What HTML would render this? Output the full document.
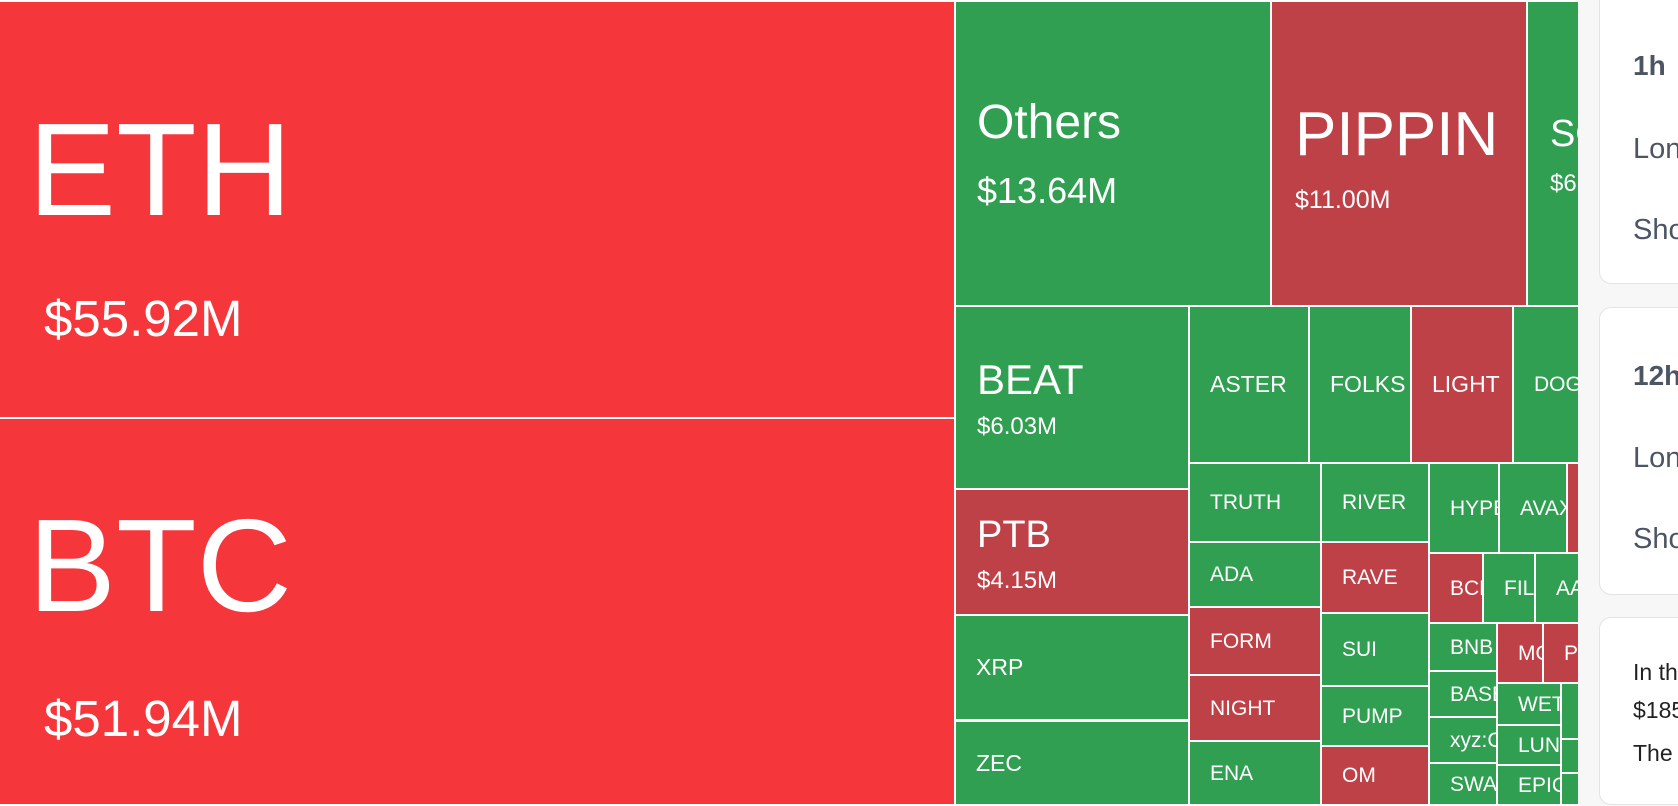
<!DOCTYPE html>
<html><head><meta charset="utf-8"><style>
html,body{margin:0;padding:0;width:1678px;height:806px;overflow:hidden;background:#fff;font-family:"Liberation Sans",sans-serif}
#tm{position:absolute;left:0;top:0;width:1578px;height:806px;background:#fff}
.cell{position:absolute;overflow:hidden}
.lbl{position:absolute;color:#fff;white-space:nowrap;line-height:1}
#side{position:absolute;left:1578px;top:0;width:100px;height:806px;background:#f7f7f8}
.card{position:absolute;left:21px;width:120px;background:#fff;border:1px solid #e4e4e7;border-radius:12px}
.ct{position:absolute;left:33px;white-space:nowrap;color:#4b5563;line-height:1}
</style></head><body>
<div id="tm"></div>
<div id="side">
 <div class="card" style="top:-12px;height:294px">
  <div class="ct" style="top:63px;font-size:28px;font-weight:bold">1h</div>
  <div class="ct" style="top:146px;font-size:29px">Long</div>
  <div class="ct" style="top:227px;font-size:29px">Short</div>
 </div>
 <div class="card" style="top:307px;height:286px">
  <div class="ct" style="top:54px;font-size:28px;font-weight:bold">12h</div>
  <div class="ct" style="top:136px;font-size:29px">Long</div>
  <div class="ct" style="top:217px;font-size:29px">Short</div>
 </div>
 <div class="card" style="top:617px;height:186px">
  <div class="ct" style="top:43px;font-size:23px;color:#222">In the past</div>
  <div class="ct" style="top:81px;font-size:23px;color:#222">$185.2M</div>
  <div class="ct" style="top:124px;font-size:23px;color:#222">The</div>
 </div>
</div>
<script>
const RED='#f5363b', DRED='#bf4148', GRN='#309f51';
const names=['ETH','BTC','Others','PIPPIN','SOL','BEAT','ASTER','FOLKS','LIGHT','DOGE','PTB','XRP','ZEC','TRUTH','RIVER','ADA','RAVE','FORM','SUI','NIGHT','PUMP','ENA','OM','HYPE','AVAX','X1','BCH','FIL','AAVE','BNB','MON','PENGU','BASED','xyz:GOLD','SWARMS','WET','LUNA','EPIC','Y1','Y2','Y3'];
const values=['$55.92M','$51.94M','$13.64M','$11.00M','$6.52M','$6.03M','','','','','$4.15M','','','','','','','','','','','','','','','','','','','','','','','','','','','','','',''];
const colors=[RED,RED,GRN,DRED,GRN,GRN,GRN,GRN,DRED,GRN,DRED,GRN,GRN,GRN,GRN,GRN,DRED,DRED,GRN,DRED,GRN,GRN,DRED,GRN,GRN,DRED,DRED,GRN,GRN,GRN,DRED,DRED,GRN,GRN,GRN,GRN,GRN,GRN,GRN,GRN,GRN];
// layout rectangles [x0,y0,x1,y1]
const rects=[[0,2,954,417],[0,419,954,804],[956,2,1270,305],[1272,2,1526,305],[1528,2,1578,305],
[956,307,1188,488],[1190,307,1308,462],[1310,307,1410,462],[1412,307,1512,462],[1514,307,1578,462],
[956,490,1188,614],[956,616,1188,719],[956,722,1188,804],
[1190,464,1320,541],[1322,464,1428,541],[1190,543,1320,606],[1322,543,1428,612],[1190,608,1320,674],[1322,614,1428,685],[1190,676,1320,740],[1322,687,1428,745],[1190,742,1320,804],[1322,747,1428,804],
[1430,464,1498,552],[1500,464,1566,552],[1568,464,1578,552],[1430,554,1482,622],[1484,554,1534,622],[1536,554,1578,622],
[1430,624,1496,670],[1498,624,1542,682],[1544,624,1578,682],[1430,672,1496,716],[1430,718,1496,762],[1430,764,1496,804],
[1498,684,1560,724],[1498,726,1560,764],[1498,766,1560,804],[1562,684,1578,738],[1562,740,1578,772],[1562,774,1578,804]];
// big label specs: [index, nameFont, nameX, nameBaseline, valueFont, valueX, valueBaseline]
const big=[[0,132,28,216,51,44,336],[1,132,28,612,51,44,736],[2,48,977,140,36,977,203],[3,62,1295,157,25,1295,209],[4,38,1550,147,24,1550,192],[5,42,977,395,24,977,435],[10,38,977,548,24,977,589]];
const tm=document.getElementById('tm');
function addLbl(cell,txt,fs,x,base,nm){
  const s=document.createElement('div');
  s.className='lbl';
  
  
  s.style.fontSize=fs+'px';
  s.style.left=x+'px';
  s.style.top=(base-0.847*fs)+'px';
  s.textContent=txt;
  cell.appendChild(s);
}
names.forEach((n,i)=>{
  const r=rects[i];
  const c=document.createElement('div');
  c.className='cell';
  
  
  c.style.left=r[0]+'px';c.style.top=r[1]+'px';
  c.style.width=(r[2]-r[0])+'px';c.style.height=(r[3]-r[1])+'px';
  c.style.background=colors[i];
  tm.appendChild(c);
  const b=big.find(q=>q[0]===i);
  if(b){
    addLbl(c,n,b[1],b[2]-r[0],b[3]-r[1],'label-'+n.toLowerCase());
    addLbl(c,values[i],b[4],b[5]-r[0],b[6]-r[1],'value-'+n.toLowerCase());
  } else if(!/^[XY]\d$/.test(n)){
    const h=r[3]-r[1];
    const fs=(h<80||r[2]-r[0]<80)?21:23;
    addLbl(c,n,fs,20,h/2+0.358*fs,'label-'+n.toLowerCase().replace(/[^a-z0-9]/g,'-'));
  }
});
</script>
</body></html>
